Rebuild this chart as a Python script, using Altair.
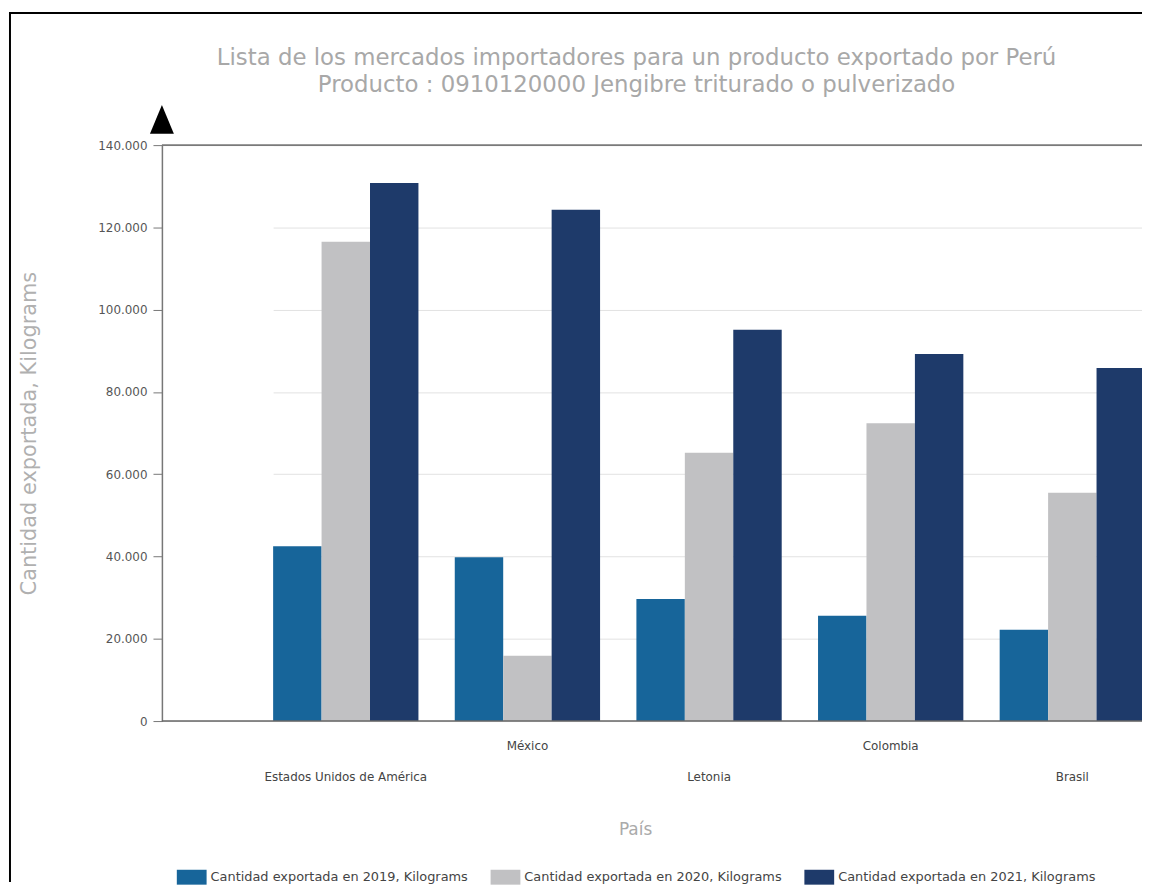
import altair as alt
import pandas as pd

countries = ["Estados Unidos de América", "México", "Letonia", "Colombia", "Brasil"]
series = ["Cantidad exportada en 2019, Kilograms",
          "Cantidad exportada en 2020, Kilograms",
          "Cantidad exportada en 2021, Kilograms"]
v2019 = [42500, 39800, 29700, 25600, 22200]
v2020 = [116500, 15900, 65200, 72400, 55500]
v2021 = [130800, 124300, 95100, 89200, 85800]
colors = ["#17659a", "#c1c1c3", "#1e3a6a"]
title_lines = ["Lista de los mercados importadores para un producto exportado por Perú",
               "Producto : 0910120000 Jengibre triturado o pulverizado"]

rows = []
for i, c in enumerate(countries):
    for s, vals in zip(series, [v2019, v2020, v2021]):
        rows.append({"pais": c, "serie": s, "valor": vals[i]})
df = pd.DataFrame(rows)
lab = pd.DataFrame({"pais": countries, "i": list(range(len(countries)))})

W, H = 987, 580
FONT = "DejaVu Sans"
xscale = alt.Scale(domain=countries, range=[112, 990], paddingInner=0.2, paddingOuter=0)
yscale = alt.Scale(domain=[0, 140000], nice=False)

bars = alt.Chart(df).mark_bar().encode(
    x=alt.X("pais:N", scale=xscale, axis=None, sort=countries),
    xOffset=alt.XOffset("serie:N", sort=series),
    y=alt.Y("valor:Q", scale=yscale,
            axis=alt.Axis(values=[0, 20000, 40000, 60000, 80000, 100000, 120000, 140000],
                          labelExpr="replace(format(datum.value, ','), ',', '.')",
                          labelFontSize=12, labelColor="#555", labelFont=FONT,
                          tickColor="#777", tickSize=9, domainColor="#777", domainWidth=1.5,
                          gridColor="#e2e2e2", labelPadding=6,
                          title="Cantidad exportada, Kilograms", titleFontSize=21,
                          titleFont=FONT, titleFontWeight="normal",
                          titleColor="#b0b0b0", titleX=-133, titleY=290, titleAngle=-90,
                          titleBaseline="middle", titleAlign="center")),
    color=alt.Color("serie:N", scale=alt.Scale(domain=series, range=colors),
                    legend=alt.Legend(orient="none", legendX=15, legendY=722,
                                      direction="horizontal", title=None,
                                      symbolType="M-1,-0.5L1,-0.5L1,0.5L-1,0.5Z",
                                      symbolSize=900, symbolStrokeWidth=0,
                                      labelFontSize=13, labelFont=FONT, labelLimit=500,
                                      labelColor="#444", columnPadding=22, labelOffset=4)),
)

top_rule = alt.Chart(pd.DataFrame({"v": [140000]})).mark_rule(color="#7a7a7a", strokeWidth=2).encode(
    y=alt.Y("v:Q", scale=yscale), x=alt.value(0), x2=alt.value(W))
base_rule = alt.Chart(pd.DataFrame({"v": [0]})).mark_rule(color="#666", strokeWidth=1.5).encode(
    y=alt.Y("v:Q", scale=yscale), x=alt.value(0), x2=alt.value(W))

lab_base = alt.Chart(lab)
lab_low = lab_base.transform_filter("datum.i % 2 == 0").mark_text(
    fontSize=12, font=FONT, color="#444", baseline="middle").encode(
    x=alt.X("pais:N", scale=xscale, sort=countries), y=alt.value(H + 56), text="pais:N")
lab_high = lab_base.transform_filter("datum.i % 2 == 1").mark_text(
    fontSize=12, font=FONT, color="#444", baseline="middle").encode(
    x=alt.X("pais:N", scale=xscale, sort=countries), y=alt.value(H + 25), text="pais:N")

tdf = pd.DataFrame({"t": title_lines, "k": [0, 1]})
t1 = alt.Chart(tdf).transform_filter("datum.k == 0").mark_text(
    fontSize=23, font=FONT, color="#a8a8a8", baseline="middle").encode(
    x=alt.value(478), y=alt.value(-88), text="t:N")
t2 = alt.Chart(tdf).transform_filter("datum.k == 1").mark_text(
    fontSize=23, font=FONT, color="#a8a8a8", baseline="middle").encode(
    x=alt.value(478), y=alt.value(-60), text="t:N")
xtitle = alt.Chart(pd.DataFrame({"t": ["País"]})).mark_text(
    fontSize=17, font=FONT, color="#aaaaaa", baseline="middle").encode(
    x=alt.value(477), y=alt.value(H + 110), text="t:N")

arrow = alt.Chart(pd.DataFrame({"a": [1]})).mark_point(
    shape="M-0.83,1L0,-1L0.83,1Z", size=841, filled=True, color="black", opacity=1).encode(
    x=alt.value(0), y=alt.value(-26))

border_l = alt.Chart(pd.DataFrame({"a": [1]})).mark_rule(color="black", strokeWidth=2).encode(
    x=alt.value(-153), y=alt.value(-133), y2=alt.value(742))
border_t = alt.Chart(pd.DataFrame({"a": [1]})).mark_rule(color="black", strokeWidth=2).encode(
    x=alt.value(-154), x2=alt.value(W), y=alt.value(-133))

chart = alt.layer(bars, top_rule, base_rule, lab_low, lab_high, t1, t2, xtitle, arrow,
                  border_l, border_t).properties(
    width=W, height=H, autosize="none",
    padding={"left": 155, "top": 135, "right": 0, "bottom": 162},
).configure_view(stroke=None).configure(background="white")

chart.save("out.html", embed_options={"renderer": "svg", "actions": False})
